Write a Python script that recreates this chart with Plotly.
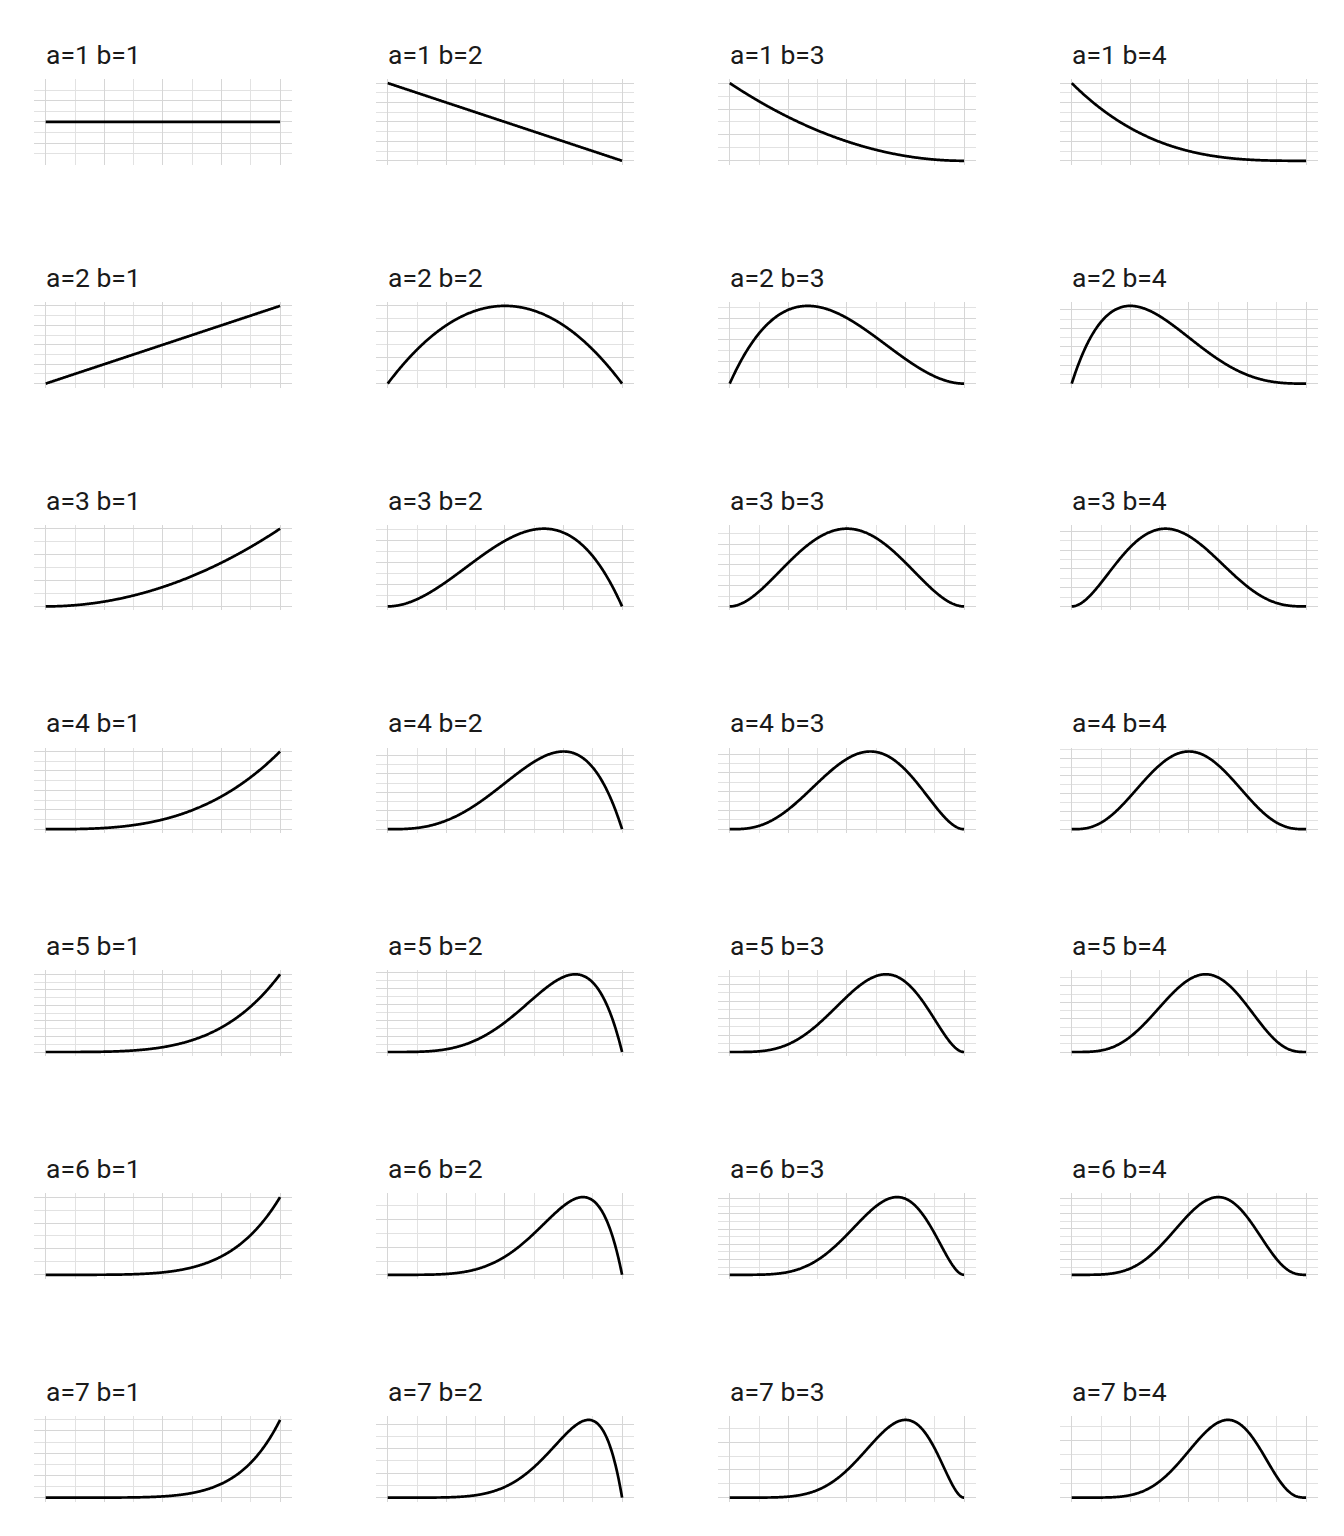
import math
import numpy as np
import plotly.graph_objects as go

# Parameters of the Beta(a, b) densities shown in the facet grid
A_VALUES = [1, 2, 3, 4, 5, 6, 7]
B_VALUES = [1, 2, 3, 4]

Y_MAJOR_STEP = [
    [0.25, 0.5, 1.0, 1.0],
    [0.5, 0.5, 0.5, 0.5],
    [1.0, 0.5, 0.5, 0.5],
    [1.0, 0.5, 0.5, 0.5],
    [1.0, 0.5, 0.5, 0.5],
    [2.0, 1.0, 0.5, 0.5],
    [2.0, 1.0, 1.0, 1.0],
]

X_MAJOR_STEP = 0.25
X = np.linspace(0.0, 1.0, 401)


def beta_pdf(x, a, b):
    logc = math.lgamma(a + b) - math.lgamma(a) - math.lgamma(b)
    with np.errstate(divide="ignore", invalid="ignore"):
        y = np.exp(logc) * np.power(x, a - 1) * np.power(1 - x, b - 1)
    return y


W, H = 1344, 1536
COL_X0, COL_STEP, PANEL_W = 34.0, 342.0, 257.8
ROW_C0, ROW_STEP, PANEL_H = 121.95, 222.8, 85.5

GRID_MAJOR = "#d6d6d6"
GRID_MINOR = "#e2e2e2"

fig = go.Figure()
layout = dict(
    width=W, height=H,
    margin=dict(l=0, r=0, t=0, b=0),
    paper_bgcolor="white", plot_bgcolor="white",
    showlegend=False,
    annotations=[],
)

for r, a in enumerate(A_VALUES):
    for c, b in enumerate(B_VALUES):
        k = r * len(B_VALUES) + c + 1
        xs = "x" if k == 1 else f"x{k}"
        ys = "y" if k == 1 else f"y{k}"
        xa = "xaxis" if k == 1 else f"xaxis{k}"
        ya = "yaxis" if k == 1 else f"yaxis{k}"

        y = beta_pdf(X, a, b)
        fig.add_trace(go.Scatter(
            x=X, y=y, mode="lines", xaxis=xs, yaxis=ys,
            line=dict(color="black", width=2.7, simplify=False),
            hoverinfo="skip",
        ))

        ymax = float(np.nanmax(y))
        ymin = float(np.nanmin(y))
        if abs(ymax - ymin) < 1e-9:
            yr = [ymin - 0.5 - 0.005, ymax + 0.5 + 0.005]
        else:
            span = ymax - 0.0
            yr = [0.0 - 0.05 * span, ymax + 0.05 * span]

        x0 = COL_X0 + COL_STEP * c
        x1 = x0 + PANEL_W
        yc = ROW_C0 + ROW_STEP * r
        top = yc - PANEL_H / 2
        bot = yc + PANEL_H / 2

        step = Y_MAJOR_STEP[r][c]
        layout[xa] = dict(
            domain=[x0 / W, x1 / W], range=[-0.05, 1.05], anchor=ys,
            tick0=0, dtick=X_MAJOR_STEP, showticklabels=False, ticks="",
            showgrid=True, gridcolor=GRID_MAJOR, gridwidth=1.2,
            zeroline=False, showline=False, fixedrange=True,
            minor=dict(tick0=0, dtick=X_MAJOR_STEP / 2, showgrid=True,
                       gridcolor=GRID_MINOR, gridwidth=0.9, ticks=""),
        )
        layout[ya] = dict(
            domain=[1 - bot / H, 1 - top / H], range=yr, anchor=xs,
            tick0=0, dtick=step, showticklabels=False, ticks="",
            showgrid=True, gridcolor=GRID_MAJOR, gridwidth=1.2,
            zeroline=False, showline=False, fixedrange=True,
            minor=dict(tick0=0, dtick=step / 2, showgrid=True,
                       gridcolor=GRID_MINOR, gridwidth=0.9, ticks=""),
        )
        layout["annotations"].append(dict(
            text=f"a={a} b={b}", xref="paper", yref="paper",
            x=(44.0 + COL_STEP * c) / W, y=1 - (54.5 + ROW_STEP * r) / H,
            xanchor="left", yanchor="middle", showarrow=False,
            font=dict(family="Roboto", size=26.5, color="#1a1a1a"),
        ))

fig.update_layout(**layout)
fig.write_html("out.html")
